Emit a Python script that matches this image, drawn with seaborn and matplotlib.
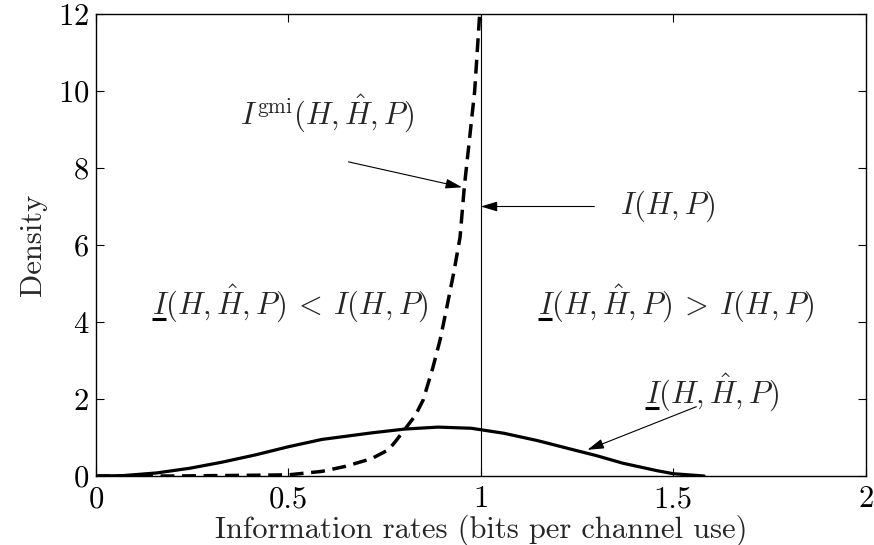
import numpy as np
import pandas as pd
import matplotlib
matplotlib.use("Agg")
import matplotlib.pyplot as plt
from matplotlib.lines import Line2D
from matplotlib.transforms import IdentityTransform
import seaborn as sns

# data
rate_solid = [0.0, 0.07, 0.158, 0.243, 0.328, 0.415, 0.5, 0.587, 0.648, 0.716,
              0.803, 0.889, 0.975, 1.06, 1.147, 1.233, 1.30, 1.37, 1.457, 1.50, 1.58]
dens_solid = [0.0, 0.01, 0.08, 0.2, 0.36, 0.55, 0.76, 0.95, 1.03, 1.12,
              1.22, 1.27, 1.24, 1.11, 0.92, 0.70, 0.53, 0.33, 0.14, 0.06, 0.0]

rate_gmi = [0.0, 0.2, 0.415, 0.5, 0.587, 0.648, 0.716, 0.76, 0.78, 0.803, 0.829,
            0.85, 0.875, 0.894, 0.91, 0.93, 0.946, 0.957, 0.970, 0.984, 0.997]
dens_gmi = [0.0, 0.0, 0.02, 0.03, 0.12, 0.25, 0.45, 0.68, 0.92, 1.22, 1.56,
            1.97, 2.8, 3.53, 4.3, 5.3, 6.2, 7.5, 8.7, 10.0, 12.0]

I_HP = 1.0

x_ticks = [0, 0.5, 1, 1.5, 2]
x_ticklabels = ["0", "0.5", "1", "1.5", "2"]
y_ticks = [0, 2, 4, 6, 8, 10, 12]

FS = 22

sns.set_style("ticks")
plt.rcParams["font.family"] = ["serif"]
plt.rcParams["font.serif"] = ["cmr10", "DejaVu Serif"]
plt.rcParams["mathtext.fontset"] = "cm"
plt.rcParams["axes.unicode_minus"] = False
plt.rcParams["axes.formatter.use_mathtext"] = True

solid_df = pd.DataFrame({"rate": rate_solid, "density": dens_solid})
gmi_df = pd.DataFrame({"rate": rate_gmi, "density": dens_gmi})

fig, ax = plt.subplots(figsize=(8.74, 5.45), dpi=100)
fig.subplots_adjust(left=0.1098, right=0.9905, top=0.9743, bottom=0.1266)

sns.lineplot(data=solid_df, x="rate", y="density", ax=ax, color="black",
             linewidth=2.3, sort=False)
sns.lineplot(data=gmi_df, x="rate", y="density", ax=ax, color="black",
             linewidth=2.5, sort=False)
ax.lines[-1].set_dashes((4, 2.2))
ax.axvline(I_HP, color="black", linewidth=0.8)

ax.set_xlim(0, 2)
ax.set_ylim(0, 12)
ax.set_xticks(x_ticks)
ax.set_xticklabels(x_ticklabels)
ax.set_yticks(y_ticks)
ax.tick_params(direction="in", length=6, width=0.8, labelsize=FS,
               top=True, right=True, pad=5, colors="black")
ax.tick_params(axis="x", pad=7)
for sp in ax.spines.values():
    sp.set_linewidth(1.0)
    sp.set_color("black")

ax.set_xlabel("Information rates (bits per channel use)", fontsize=FS, labelpad=1)
ax.set_ylabel("Density", fontsize=FS, labelpad=8)

arrow = dict(arrowstyle="-|>,head_length=1.0,head_width=0.3", color="black",
             lw=0.8, shrinkA=0, shrinkB=0)

ax.text(0.6, 9.12, r"$I^{\mathrm{gmi}}(H,\hat{H},P)$", fontsize=FS,
        ha="center", va="baseline")
ax.annotate("", xy=(0.951, 7.5), xytext=(0.656, 8.16), arrowprops=arrow)

ax.text(1.484, 7.0, r"$I(H,P)$", fontsize=FS, ha="center", va="center")
ax.annotate("", xy=(1.0, 7.0), xytext=(1.295, 7.0), arrowprops=arrow)

ax.annotate("", xy=(1.277, 0.68), xytext=(1.56, 1.8), arrowprops=arrow)

# labels whose leading I is underlined (mathtext has no \underline)
lbl = r"I(H,\hat{H},P)"
under_texts = [
    (0.504, 4.18, "$" + lbl + r"\:<\:I(H,P)$"),
    (1.507, 4.18, "$" + lbl + r"\:>\:I(H,P)$"),
    (1.6, 1.87, "$" + lbl + "$"),
]
placed = [ax.text(x, y, s, fontsize=FS, ha="center", va="baseline")
          for x, y, s in under_texts]
fig.canvas.draw()
renderer = fig.canvas.get_renderer()
probe = ax.text(0, 0, "$I$", fontsize=FS)
i_width = probe.get_window_extent(renderer).width
probe.remove()
for (x, y, s), t in zip(under_texts, placed):
    bb = t.get_window_extent(renderer)
    y_base = ax.transData.transform((x, y))[1]
    fig.add_artist(Line2D([bb.x0 + 0.5, bb.x0 + i_width - 2.5],
                          [y_base - 4, y_base - 4], color="black",
                          linewidth=2.2, solid_capstyle="butt",
                          transform=IdentityTransform()))

fig.savefig("out.png", dpi=100)
